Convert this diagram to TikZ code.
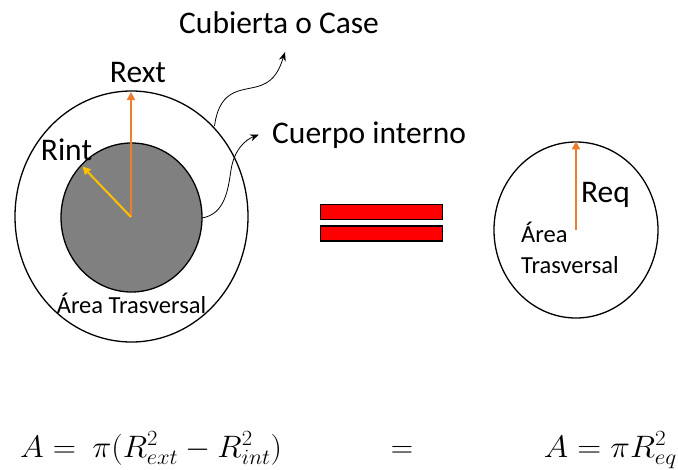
\RequirePackage{fix-cm}
\documentclass[tikz,border=0pt]{standalone}
\usepackage{fontspec}
\setmainfont{Carlito}
\usetikzlibrary{shapes.geometric,arrows.meta}
\definecolor{accentorange}{RGB}{237,125,49}
\definecolor{accentgold}{RGB}{255,192,0}
\begin{document}
\begin{tikzpicture}[x=1pt,y=-1pt,
  ring/.style={draw=black,line width=1.3pt,ellipse,inner sep=0pt},
  lbl/.style={inner sep=0pt,font=\fontsize{31.5}{34}\selectfont},
  small/.style={inner sep=0pt,font=\fontsize{24.5}{27}\selectfont},
  radius arrow/.style={line width=2pt,-{Triangle[length=8pt,width=8pt]}},
  curvy/.style={line width=0.8pt,-{Stealth[length=9pt,width=7pt]}},
  bar/.style={draw=black,line width=1.2pt,fill=red},
  eqtext/.style={inner sep=0pt,font=\fontsize{31}{34}\selectfont}]
\useasboundingbox (0,0) rectangle (678,469);
% left rings
\node[ring,minimum width=233pt,minimum height=251pt] (outer) at (131.5,216.5) {};
\node[ring,fill=black!50,minimum width=141pt,minimum height=149pt] (inner) at (131.5,217.5) {};
\coordinate (c) at (131,217);
\coordinate (rexttip) at (131,92);
\coordinate (rinttip) at (82.5,166.5);
\draw[radius arrow,accentorange] (c) -- (rexttip);
\draw[radius arrow,accentgold] (c) -- (rinttip);
\node[lbl,anchor=base] (rext) at (138,82) {Rext};
\node[lbl,anchor=base] (rint) at (66.5,160) {Rint};
\node[small,anchor=base] (areaL) at (131.5,313) {Área Trasversal};
% labels with curved arrows
\node[lbl,anchor=base west] (cub) at (179,33) {Cubierta o Case};
\node[lbl,anchor=base west] (cuer) at (272,143) {Cuerpo interno};
\coordinate (cubstart) at (214.5,126);
\coordinate (cubend) at (285,52);
\coordinate (cuestart) at (202,218);
\coordinate (cueend) at (259,134.5);
\draw[curvy] (cubstart) .. controls (220,85) and (245,92) .. (262,85) .. controls (275,80) and (280,68) .. (cubend);
\draw[curvy] (cuestart) .. controls (225,214) and (228,190) .. (231,170) .. controls (234,150) and (245,140) .. (cueend);
% equals bars
\node[bar,minimum width=122pt,minimum height=15pt,inner sep=0pt] (bar1) at (381.5,212) {};
\node[bar,minimum width=122pt,minimum height=15pt,inner sep=0pt] (bar2) at (381.5,233.5) {};
% right circle
\node[ring,minimum width=164pt,minimum height=176pt] (eq) at (576,230) {};
\coordinate (reqbase) at (576,230);
\draw[radius arrow,accentorange] (reqbase) -- (eq.north);
\node[lbl,anchor=base] (req) at (605.5,202) {Req};
\node[small,anchor=base west] (area1) at (521,242) {Área};
\node[small,anchor=base west] (area2) at (521,273) {Trasversal};
% equations
\node[eqtext,anchor=base west] (eqL) at (20,457) {\scalebox{1.04}[1]{$A=\ \pi\Bigl(R_{ext}^2-R_{int}^2\Bigr)$}};
\node[eqtext,anchor=base] (eqM) at (402,457) {$=$};
\node[eqtext,anchor=base east] (eqR) at (677,457) {\scalebox{1.07}[1]{$A=\pi R_{eq}^2$}};
\end{tikzpicture}
\end{document}
